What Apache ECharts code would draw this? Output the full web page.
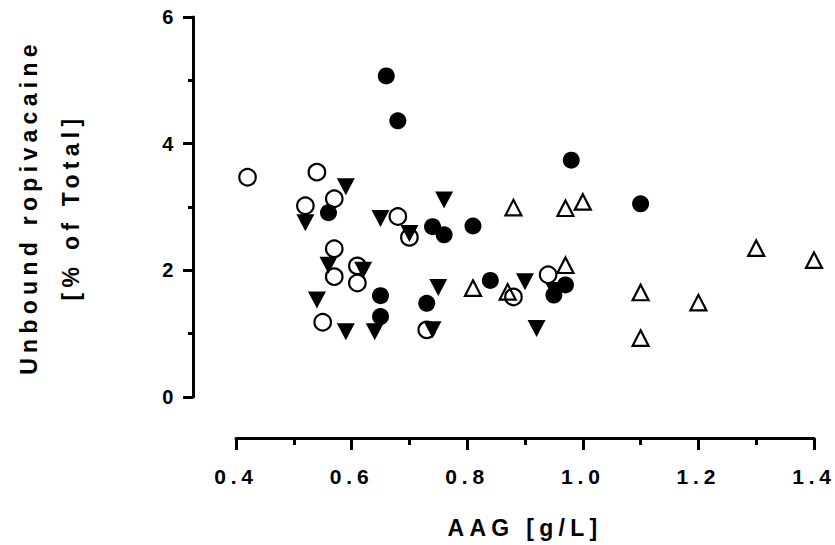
<!DOCTYPE html>
<html>
<head>
<meta charset="utf-8">
<title>Unbound ropivacaine vs AAG</title>
<script src="https://cdn.jsdelivr.net/npm/echarts/dist/echarts.min.js"></script>
<style>
  html, body { margin: 0; padding: 0; background: #fff; }
  #chart { width: 835px; height: 545px; }
  /* spaced-out lettering for all chart text */
  #chart svg text { letter-spacing: 0.23em; }
</style>
</head>
<body>
<div id="chart"></div>
<script>
// [AAG g/L, unbound fraction %]
const filledCircles = [
  [0.56, 2.91], [0.65, 1.60], [0.65, 1.27], [0.66, 5.07], [0.68, 4.36],
  [0.73, 1.48], [0.74, 2.69], [0.76, 2.56], [0.81, 2.70], [0.84, 1.84],
  [0.95, 1.61], [0.97, 1.77], [0.98, 3.74], [1.10, 3.05]
];
const openCircles = [
  [0.42, 3.47], [0.52, 3.02], [0.54, 3.55], [0.55, 1.18], [0.57, 3.13],
  [0.57, 2.34], [0.57, 1.90], [0.61, 2.07], [0.61, 1.80], [0.68, 2.85],
  [0.70, 2.52], [0.73, 1.06], [0.88, 1.58], [0.94, 1.93]
];
const filledTrianglesDown = [
  [0.52, 2.75], [0.54, 1.53], [0.56, 2.08], [0.59, 3.32], [0.59, 1.03],
  [0.62, 2.00], [0.64, 1.03], [0.65, 2.82], [0.70, 2.58], [0.74, 1.06],
  [0.75, 1.73], [0.76, 3.11], [0.90, 1.82], [0.92, 1.08], [0.95, 1.68]
];
const openTrianglesUp = [
  [0.81, 1.72], [0.87, 1.66], [0.88, 2.99], [0.97, 2.98], [0.97, 2.08],
  [1.00, 3.08], [1.10, 1.65], [1.10, 0.93], [1.20, 1.49], [1.30, 2.35],
  [1.40, 2.16]
];

const xRange = { min: 0.4, max: 1.4, step: 0.2 };
const yRange = { min: 0, max: 6, step: 2 };
const xTitle = 'AAG [g/L]';
const yTitle = 'Unbound ropivacaine\n[% of Total]';

const FONT = "'Liberation Sans', Arial, sans-serif";
const INK = '#000';

const chart = echarts.init(document.getElementById('chart'), null, { renderer: 'svg' });

chart.setOption({
  animation: false,
  backgroundColor: '#fff',
  grid: { left: 225, right: 21, top: 17, bottom: 148, containLabel: false },
  xAxis: {
    type: 'value',
    min: xRange.min, max: xRange.max, interval: xRange.step,
    offset: 41,
    name: xTitle,
    nameLocation: 'middle',
    nameGap: 78,
    nameTextStyle: { fontFamily: FONT, fontWeight: 'bold', fontSize: 23, color: INK },
    axisLine: { show: true, onZero: false, lineStyle: { color: INK, width: 3 } },
    axisTick: { show: true, length: 12, lineStyle: { color: INK, width: 3 } },
    minorTick: { show: true, splitNumber: 2, length: 7, lineStyle: { color: INK, width: 3 } },
    splitLine: { show: false },
    minorSplitLine: { show: false },
    axisLabel: {
      margin: 28, fontFamily: FONT, fontWeight: 'bold', fontSize: 21, color: INK,
      showMinLabel: true, showMaxLabel: true,
      formatter: v => v.toFixed(1)
    }
  },
  yAxis: {
    type: 'value',
    min: yRange.min, max: yRange.max, interval: yRange.step,
    offset: 43,
    name: yTitle,
    nameLocation: 'middle',
    nameGap: 101,
    nameTextStyle: { fontFamily: FONT, fontWeight: 'bold', fontSize: 23, color: INK, lineHeight: 42 },
    axisLine: { show: true, onZero: false, lineStyle: { color: INK, width: 3 } },
    axisTick: { show: true, length: 10, lineStyle: { color: INK, width: 3 } },
    minorTick: { show: true, splitNumber: 2, length: 5, lineStyle: { color: INK, width: 3 } },
    splitLine: { show: false },
    minorSplitLine: { show: false },
    axisLabel: {
      margin: 15, fontFamily: FONT, fontWeight: 'bold', fontSize: 20, color: INK,
      showMinLabel: true, showMaxLabel: true
    }
  },
  series: [
    {
      name: 'filledTrianglesDown', type: 'scatter', data: filledTrianglesDown,
      symbol: 'triangle', symbolRotate: 180, symbolSize: [18, 17],
      itemStyle: { color: INK, opacity: 1 }
    },
    {
      name: 'openTrianglesUp', type: 'scatter', data: openTrianglesUp,
      symbol: 'triangle', symbolSize: [16, 15.5],
      itemStyle: { color: 'transparent', borderColor: INK, borderWidth: 2.2, opacity: 1 }
    },
    {
      name: 'filledCircles', type: 'scatter', data: filledCircles,
      symbol: 'circle', symbolSize: 17,
      itemStyle: { color: INK, opacity: 1 }
    },
    {
      name: 'openCircles', type: 'scatter', data: openCircles,
      symbol: 'circle', symbolSize: 16.5,
      itemStyle: { color: 'transparent', borderColor: INK, borderWidth: 2.2, opacity: 1 }
    }
  ]
});
</script>
</body>
</html>
